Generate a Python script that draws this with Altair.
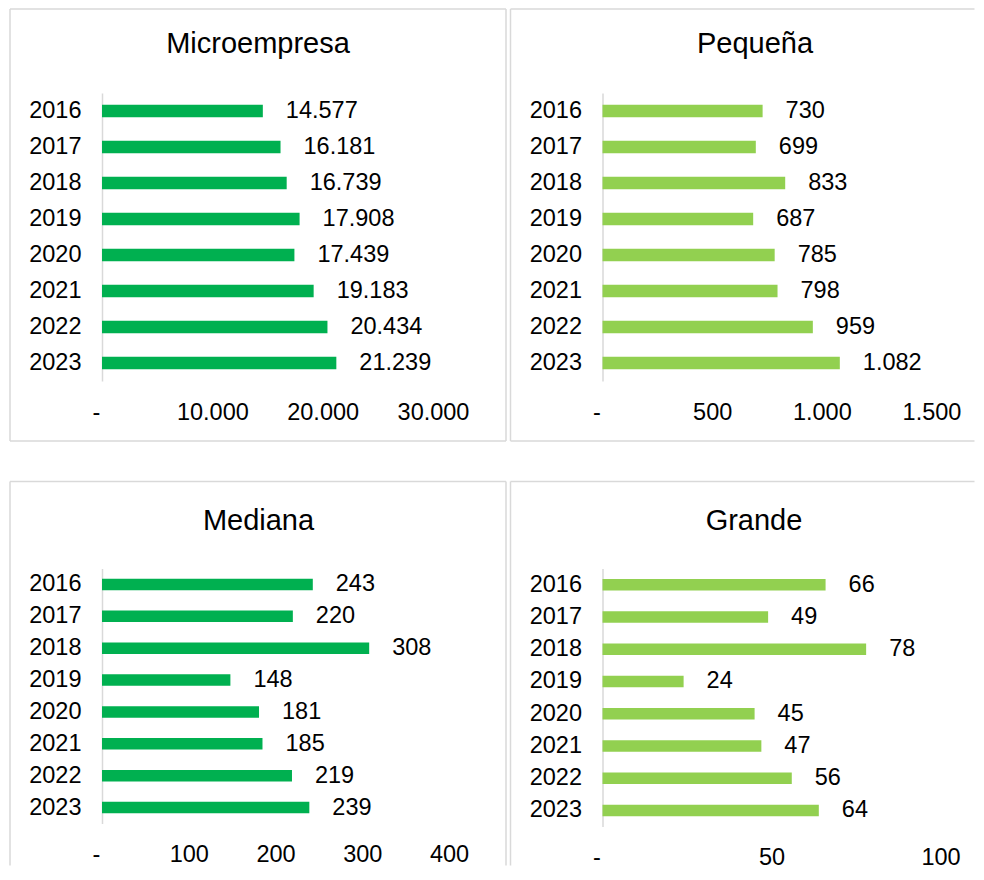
import altair as alt
import pandas as pd

years = ["2016", "2017", "2018", "2019", "2020", "2021", "2022", "2023"]
micro = [14577, 16181, 16739, 17908, 17439, 19183, 20434, 21239]
pequena = [730, 699, 833, 687, 785, 798, 959, 1082]
mediana = [243, 220, 308, 148, 181, 185, 219, 239]
grande = [66, 49, 78, 24, 45, 47, 56, 64]
titles = ["Microempresa", "Pequeña", "Mediana", "Grande"]
ticks_micro = [0, 10000, 20000, 30000]
ticks_peq = [0, 500, 1000, 1500]
ticks_med = [0, 100, 200, 300, 400]
ticks_gra = [0, 50, 100]

DARK = "#00B050"
LIGHT = "#92D050"
FONT = "Liberation Sans"
FRAME = "#d9d9d9"
FS = 23.5

one = pd.DataFrame({"k": [0]})


def rule(x1, x2, y1, y2):
    return alt.Chart(one).mark_rule(color=FRAME, strokeWidth=1.5).encode(
        x=alt.value(x1), x2=alt.value(x2), y=alt.value(y1), y2=alt.value(y2)
    )


def panel(title, values, ticks, color, width, height, bar_size, tx, ty, frame_rules):
    df = pd.DataFrame({"year": years, "value": values})
    base = alt.Chart(df).encode(
        y=alt.Y(
            "year:N",
            sort=years,
            title=None,
            scale=alt.Scale(paddingInner=0, paddingOuter=0),
            axis=alt.Axis(
                labelFontSize=FS, labelFont=FONT, labelColor="black",
                domainColor=FRAME, domainWidth=1.5, ticks=False, tickSize=0,
                labelPadding=21, grid=False,
            ),
        ),
        x=alt.X(
            "value:Q",
            title=None,
            scale=alt.Scale(domain=[0, ticks[-1]], nice=False, zero=True),
            axis=alt.Axis(
                values=ticks,
                labelExpr="datum.value == 0 ? '-' : replace(format(datum.value, ','), ',', '.')",
                domain=False, ticks=False, tickSize=0, grid=False,
                labelFontSize=FS, labelFont=FONT, labelColor="black",
                labelPadding=19, labelFlush=False, labelOverlap=False,
                labelOffset={"condition": {"test": "datum.value === 0", "value": -6}, "value": 0},
            ),
        ),
    )
    bars = base.mark_bar(size=bar_size, color=color)
    labels = base.mark_text(
        align="left", baseline="middle", dx=23, fontSize=FS, font=FONT, color="black"
    ).transform_calculate(
        lbl="replace(format(datum.value, ','), ',', '.')"
    ).encode(text="lbl:N")
    head = alt.Chart(one).mark_text(
        fontSize=29, font=FONT, align="center", baseline="alphabetic", color="black"
    ).encode(x=alt.value(tx), y=alt.value(ty), text=alt.value(title))
    frames = [rule(*r) for r in frame_rules]
    return alt.layer(*frames, bars, labels, head).properties(width=width, height=height)


tl = panel(titles[0], micro, ticks_micro, DARK, 331, 288, 12.5, 156, -39.7,
           [(-92, -92, -84, 348), (-92, 404, -84, -84), (404, 404, -84, 348), (-92, 404, 348, 348)])
tr = panel(titles[1], pequena, ticks_peq, LIGHT, 329, 288, 12.5, 152.5, -40.3,
           [(-92, -92, -84, 348), (-92, 372, -84, -84), (-92, 372, 348, 348)])
bl = panel(titles[2], mediana, ticks_med, DARK, 347, 255, 11.5, 156.5, -38.7,
           [(-92, -92, -87, 297), (-92, 404, -87, -87), (404, 404, -87, 297)])
br = panel(titles[3], grande, ticks_gra, LIGHT, 338, 258, 11.5, 151.5, -38.7,
           [(-92, -92, -87, 297), (-92, 372, -87, -87)])

top = alt.hconcat(tl, tr, spacing=2.5)
bottom = alt.hconcat(bl, br, spacing=2.5)
chart = alt.vconcat(top, bottom, spacing=38.5).properties(
    padding={"left": 1, "top": 0, "right": 0, "bottom": 0}
).configure_view(strokeWidth=0)

chart.save("out.html", embed_options={"renderer": "svg", "actions": False})
